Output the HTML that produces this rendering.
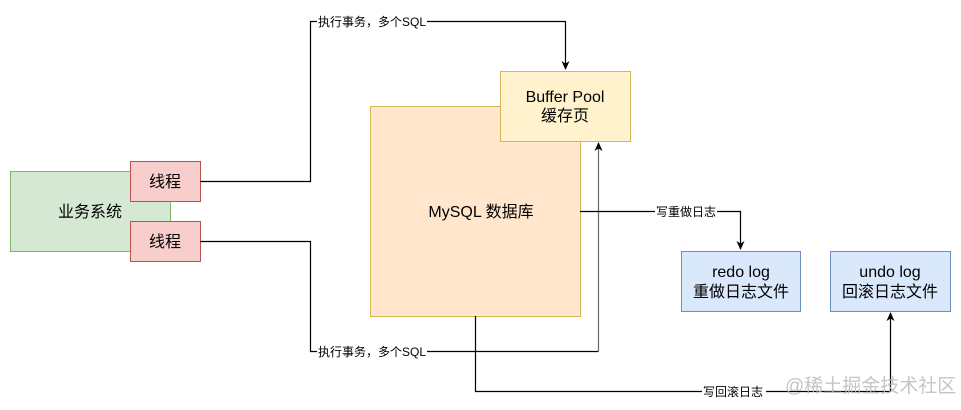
<!DOCTYPE html>
<html><head><meta charset="utf-8"><style>
html,body{margin:0;padding:0;background:#fff;width:961px;height:410px;overflow:hidden}
svg text{font-family:"Liberation Sans","Noto Sans CJK SC",sans-serif}
</style></head><body>
<svg width="961" height="410" viewBox="0 0 961 410" xmlns="http://www.w3.org/2000/svg">
<defs>
<marker id="a" markerWidth="10" markerHeight="10" refX="8" refY="5" orient="auto" markerUnits="userSpaceOnUse"><path d="M0,1 L9,5 L0,9 L2.5,5 Z" fill="#000"/></marker>
</defs>
<rect x="10.5" y="171.5" width="160" height="80" fill="#d5e8d4" stroke="#82b366"/>
<text x="90" y="217" font-size="16" text-anchor="middle">业务系统</text>
<rect x="130.5" y="161.5" width="70" height="40" fill="#f8cecc" stroke="#b85450"/>
<text x="165" y="187" font-size="16" text-anchor="middle">线程</text>
<rect x="130.5" y="221.5" width="70" height="40" fill="#f8cecc" stroke="#b85450"/>
<text x="165" y="247" font-size="16" text-anchor="middle">线程</text>
<rect x="370.5" y="106.5" width="210" height="210" fill="#ffe6cc" stroke="#d6b656"/>
<text x="481" y="217" font-size="16" text-anchor="middle">MySQL 数据库</text>
<rect x="500.5" y="71.5" width="130" height="70" fill="#fff2cc" stroke="#d6b656"/>
<text x="565" y="102" font-size="16" text-anchor="middle">Buffer Pool</text>
<text x="565" y="121" font-size="16" text-anchor="middle">缓存页</text>
<rect x="681.5" y="251.5" width="119" height="60" fill="#dae8fc" stroke="#6c8ebf"/>
<text x="741" y="277" font-size="16" text-anchor="middle">redo log</text>
<text x="741" y="297" font-size="16" text-anchor="middle">重做日志文件</text>
<rect x="830.5" y="251.5" width="120" height="60" fill="#dae8fc" stroke="#6c8ebf"/>
<text x="890" y="277" font-size="16" text-anchor="middle">undo log</text>
<text x="890" y="297" font-size="16" text-anchor="middle">回滚日志文件</text>
<g fill="none" stroke="#000" stroke-width="1.2">
<path d="M200,181.5 H310.5 V21.5 H565.5 V69" marker-end="url(#a)"/>
<path d="M200,241.5 H310.5 V351.5 H598.5"/>
<path d="M598.5,351.5 V143" stroke="#666" marker-end="url(#a)"/>
<path d="M580,211.5 H740.5 V249" marker-end="url(#a)"/>
<path d="M475.5,316 V391.5 H890.5 V313" marker-end="url(#a)"/>
</g>
<g font-size="12">
<rect x="317" y="14" width="110" height="15" fill="#fff"/>
<text x="318" y="26">执行事务，多个SQL</text>
<rect x="317" y="344" width="110" height="15" fill="#fff"/>
<text x="318" y="356">执行事务，多个SQL</text>
<rect x="655" y="204" width="62" height="15" fill="#fff"/>
<text x="656" y="216">写重做日志</text>
<rect x="702" y="384" width="64" height="15" fill="#fff"/>
<text x="703" y="396">写回滚日志</text>
</g>
<text x="785" y="392" font-size="19" fill="#bbb" fill-opacity="0.85">@稀土掘金技术社区</text>
</svg>
</body></html>
